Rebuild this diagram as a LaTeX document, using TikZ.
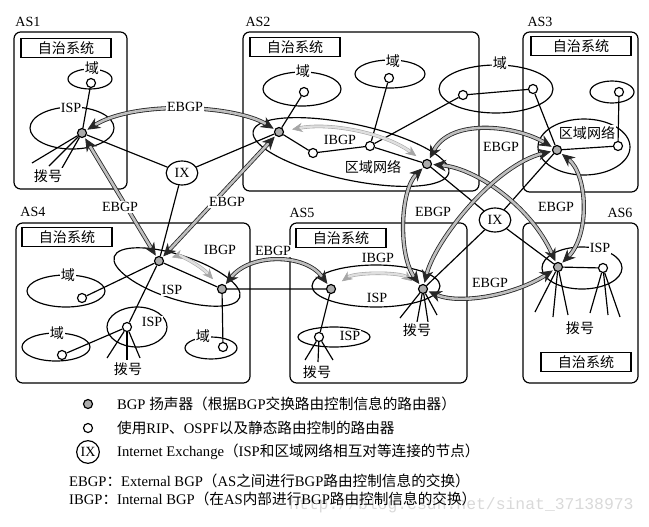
\documentclass[tikz,border=0pt]{standalone}
\usepackage{fontspec}
\setmainfont{Liberation Serif}
\newfontfamily\cjk{Noto Sans CJK SC}
\newfontfamily\wmfont{Liberation Mono}
\newcommand{\zh}[1]{{\cjk #1}}
\usetikzlibrary{arrows.meta, shapes.geometric}

\begin{document}
\begin{tikzpicture}[
  x = 0.03cm, y = -0.03cm,
  font = \fontsize{12}{14}\selectfont,
  asbox/.style = {draw, rounded corners = 2mm, line width = 1pt},
  sysbox/.style = {draw, line width = 1pt, minimum width = 2.7cm, minimum height = 0.57cm, inner sep = 0pt},
  area/.style = {draw, line width = 1pt},
  wire/.style = {draw, line width = 1pt},
  router/.style = {circle, draw, line width = 1pt, fill = white, minimum size = 2.7mm, inner sep = 0pt},
  speaker/.style = {router, fill = gray!65},
  ixnode/.style = {ellipse, draw, line width = 1pt, fill = white, minimum width = 0.95cm, minimum height = 0.72cm, inner sep = 0pt},
  lbl/.style = {fill = white, inner sep = 1pt},
  ebgp/.style = {draw = black!85, line width = 0.7pt, double = gray!50, double distance = 2.2pt,
    {Stealth[length = 11pt, width = 10pt]}-{Stealth[length = 11pt, width = 10pt]}, shorten <= 1pt, shorten >= 1pt},
  ibgp/.style = {draw = gray!70, line width = 0.5pt, double = gray!25, double distance = 2pt,
    {Stealth[length = 9pt, width = 8pt]}-{Stealth[length = 9pt, width = 8pt]}, shorten <= 7pt, shorten >= 7pt},
  legend/.style = {anchor = west, font = \fontsize{12.5}{14}\selectfont},
  ]
  \useasboundingbox (0,0) rectangle (649,526);

  \draw[asbox] (14,32) rectangle (127,189);
  \draw[asbox] (243,32) rectangle (479,191);
  \draw[asbox] (523,32) rectangle (638,192);
  \draw[asbox] (16,223) rectangle (250,383);
  \draw[asbox] (290,223) rectangle (467,383);
  \draw[asbox] (523,223) rectangle (638,383);

  \node (as1) at (28,22) {AS1};
  \node (as2) at (258,22) {AS2};
  \node (as3) at (540,22) {AS3};
  \node (as4) at (33,212) {AS4};
  \node (as5) at (302,213) {AS5};
  \node (as6) at (620,213) {AS6};

  \node[sysbox] (sys1) at (66,48) {\zh{自治系统}};
  \node[sysbox] (sys2) at (295,47) {\zh{自治系统}};
  \node[sysbox, minimum width = 3cm] (sys3) at (581,46) {\zh{自治系统}};
  \node[sysbox] (sys4) at (67,237) {\zh{自治系统}};
  \node[sysbox] (sys5) at (341,238) {\zh{自治系统}};
  \node[sysbox] (sys6) at (586,362) {\zh{自治系统}};

  \draw[area] (90,79) ellipse [x radius = 22, y radius = 10];
  \draw[area] (72,128) ellipse [x radius = 42, y radius = 21];
  \draw[area] (302,89) ellipse [x radius = 39, y radius = 17];
  \draw[area] (390,74) ellipse [x radius = 35, y radius = 14];
  \draw[area] (496,89) ellipse [x radius = 57, y radius = 24];
  \draw[area, rotate around = {-12:(351,152)}] (351,152) ellipse [x radius = 100, y radius = 28];
  \draw[area] (612,92) ellipse [x radius = 22, y radius = 11];
  \draw[area] (584,147) ellipse [x radius = 46, y radius = 28];
  \draw[area] (66,291) ellipse [x radius = 39, y radius = 16];
  \draw[area] (56,347) ellipse [x radius = 34, y radius = 14];
  \draw[area] (137,327) ellipse [x radius = 30, y radius = 20];
  \draw[area, rotate around = {-18:(177,277)}] (177,277) ellipse [x radius = 66, y radius = 22];
  \draw[area] (211,348) ellipse [x radius = 26, y radius = 11];
  \draw[area] (376,286) ellipse [x radius = 64, y radius = 21];
  \draw[area] (334,337) ellipse [x radius = 36, y radius = 10];
  \draw[area] (582,268) ellipse [x radius = 40, y radius = 21];

  \node[speaker] (s1) at (82,133) {};
  \node[router] (r1) at (91,83) {};
  \node[speaker] (s2l) at (279,132) {};
  \node[speaker] (s2r) at (427,164) {};
  \node[router] (r2a) at (304,92) {};
  \node[router] (r2b) at (389,78) {};
  \node[router] (r2c) at (463,95) {};
  \node[router] (r2d) at (313,153) {};
  \node[router] (r2e) at (370,146) {};
  \node[router] (r3a) at (533,89) {};
  \node[speaker] (s3) at (557,150) {};
  \node[router] (r3b) at (618,146) {};
  \node[router] (r3c) at (619,92) {};
  \node[speaker] (s4a) at (159,261) {};
  \node[speaker] (s4b) at (222,289) {};
  \node[router] (r4a) at (82,298) {};
  \node[router] (r4b) at (62,355) {};
  \node[router] (r4c) at (127,327) {};
  \node[router] (r4d) at (223,347) {};
  \node[speaker] (s5l) at (331,289) {};
  \node[speaker] (s5r) at (423,289) {};
  \node[router] (r5a) at (319,337) {};
  \node[speaker] (s6) at (558,267) {};
  \node[router] (r6a) at (603,268) {};
  \node[ixnode] (ixl) at (182,173) {IX};
  \node[ixnode] (ixr) at (495,220) {IX};

  \draw[wire] (s1) -- (r1);
  \draw[wire] (s1) -- (ixl);
  \draw[wire] (ixl) -- (s2l);
  \draw[wire] (ixl) -- (s4a);
  \draw[wire] (s2l) -- (r2a);
  \draw[wire] (s2l) -- (r2d) -- (r2e) -- (s2r);
  \draw[wire] (r2e) -- (r2b);
  \draw[wire] (r2e) -- (r2c) -- (r3a) -- (s3);
  \draw[wire] (s3) -- (r3b) -- (r3c);
  \draw[wire] (s2r) -- (ixr);
  \draw[wire] (s3) -- (ixr);
  \draw[wire] (s5r) -- (ixr);
  \draw[wire] (s6) -- (ixr);
  \draw[wire] (s6) -- (r6a);
  \draw[wire] (s4a) -- (r4a);
  \draw[wire] (s4a) -- (s4b) -- (s5l);
  \draw[wire] (s4a) -- (r4c) -- (r4b);
  \draw[wire] (s4b) -- (r4d);
  \draw[wire] (s5l) -- (r5a);

  \foreach \x/\y [count = \i] in {32/163, 49/166, 62/168}
    \draw[wire] (s1) -- (\x,\y) coordinate (d1\i);
  \foreach \x/\y [count = \i] in {107/358, 127/360, 140/358}
    \draw[wire] (r4c) -- (\x,\y) coordinate (d4\i);
  \foreach \x/\y [count = \i] in {305/360, 318/362, 333/360}
    \draw[wire] (r5a) -- (\x,\y) coordinate (d5\i);
  \foreach \x/\y [count = \i] in {400/318, 417/322, 428/322, 437/315}
    \draw[wire] (s5r) -- (\x,\y) coordinate (e5\i);
  \foreach \x/\y [count = \i] in {535/312, 553/317, 568/315}
    \draw[wire] (s6) -- (\x,\y) coordinate (d6\i);
  \foreach \x/\y [count = \i] in {590/313, 608/315, 620/317}
    \draw[wire] (r6a) -- (\x,\y) coordinate (e6\i);

  \draw[ibgp] (s2l) .. controls (330,122) and (385,133) .. (s2r);
  \draw[ibgp] (s4a) .. controls (180,255) and (200,265) .. (s4b);
  \draw[ibgp] (s5l) .. controls (355,272) and (400,272) .. (s5r);

  \draw[ebgp] (s1) .. controls (135,100) and (235,105) .. (s2l);
  \draw[ebgp] (s1) -- (s4a);
  \draw[ebgp] (s2l) -- (s4a);
  \draw[ebgp] (s4b) .. controls (250,253) and (305,253) .. (s5l);
  \draw[ebgp] (s2r) .. controls (400,190) and (398,255) .. (s5r);
  \draw[ebgp] (s2r) .. controls (450,118) and (515,125) .. (s3);
  \draw[ebgp] (s2r) .. controls (475,168) and (530,205) .. (s6);
  \draw[ebgp] (s5r) .. controls (435,240) and (495,165) .. (s3);
  \draw[ebgp] (s5r) .. controls (460,305) and (515,295) .. (s6);
  \draw[ebgp] (s3) .. controls (588,175) and (590,235) .. (s6);

  \node[lbl] (dom1) at (92,68) {\zh{域}};
  \node[lbl] (isp1) at (71,108) {ISP};
  \node[lbl] (dial1) at (48,176) {\zh{拨号}};
  \node[lbl] (dom2a) at (303,71) {\zh{域}};
  \node[lbl] (dom2b) at (393,61) {\zh{域}};
  \node[lbl] (dom2c) at (500,63) {\zh{域}};
  \node[lbl] (reg2) at (373,167) {\zh{区域网络}};
  \node[lbl] (ib2) at (340,140) {IBGP};
  \node[lbl] (reg3) at (587,133) {\zh{区域网络}};
  \node[lbl] (dom4a) at (68,275) {\zh{域}};
  \node[lbl] (dom4b) at (57,333) {\zh{域}};
  \node[lbl] (dom4c) at (203,336) {\zh{域}};
  \node[lbl] (isp4a) at (172,290) {ISP};
  \node[lbl] (isp4b) at (152,322) {ISP};
  \node[lbl] (ib4) at (220,250) {IBGP};
  \node[lbl] (dial4) at (128,369) {\zh{拨号}};
  \node[lbl] (isp5a) at (377,298) {ISP};
  \node[lbl] (isp5b) at (350,336) {ISP};
  \node[lbl] (ib5) at (378,258) {IBGP};
  \node[lbl] (dial5a) at (317,372) {\zh{拨号}};
  \node[lbl] (dial5b) at (417,330) {\zh{拨号}};
  \node[lbl] (isp6) at (600,248) {ISP};
  \node[lbl] (dial6) at (580,328) {\zh{拨号}};

  \node[lbl] (eb1) at (185,107) {EBGP};
  \node[lbl] (eb2) at (120,207) {EBGP};
  \node[lbl] (eb3) at (227,202) {EBGP};
  \node[lbl] (eb4) at (273,251) {EBGP};
  \node[lbl] (eb5) at (433,212) {EBGP};
  \node[lbl] (eb6) at (501,147) {EBGP};
  \node[lbl] (eb7) at (556,207) {EBGP};
  \node[lbl] (eb8) at (490,283) {EBGP};

  \node[anchor = west, text = gray!30, font = \wmfont\fontsize{14}{14}\selectfont] (wm) at (285,505) {http://blog.csdn.net/sinat\_37138973};
  \node[speaker] (k1) at (88,404) {};
  \node[router] (k2) at (88,428) {};
  \node[circle, draw, line width = 1pt, inner sep = 0pt, minimum size = 0.68cm] (k3) at (88,452) {IX};
  \node[legend] (t1) at (113,404) {BGP \zh{扬声器（根据}BGP\zh{交换路由控制信息的路由器）}};
  \node[legend] (t2) at (113,428) {\zh{使用}RIP\zh{、}OSPF\zh{以及静态路由控制的路由器}};
  \node[legend] (t3) at (113,452) {Internet Exchange\zh{（}ISP\zh{和区域网络相互对等连接的节点）}};
  \node[legend] (t4) at (65,481) {EBGP\zh{：}External BGP\zh{（}AS\zh{之间进行}BGP\zh{路由控制信息的交换）}};
  \node[legend] (t5) at (65,499) {IBGP\zh{：}Internal BGP\zh{（在}AS\zh{内部进行}BGP\zh{路由控制信息的交换）}};
\end{tikzpicture}
\end{document}
